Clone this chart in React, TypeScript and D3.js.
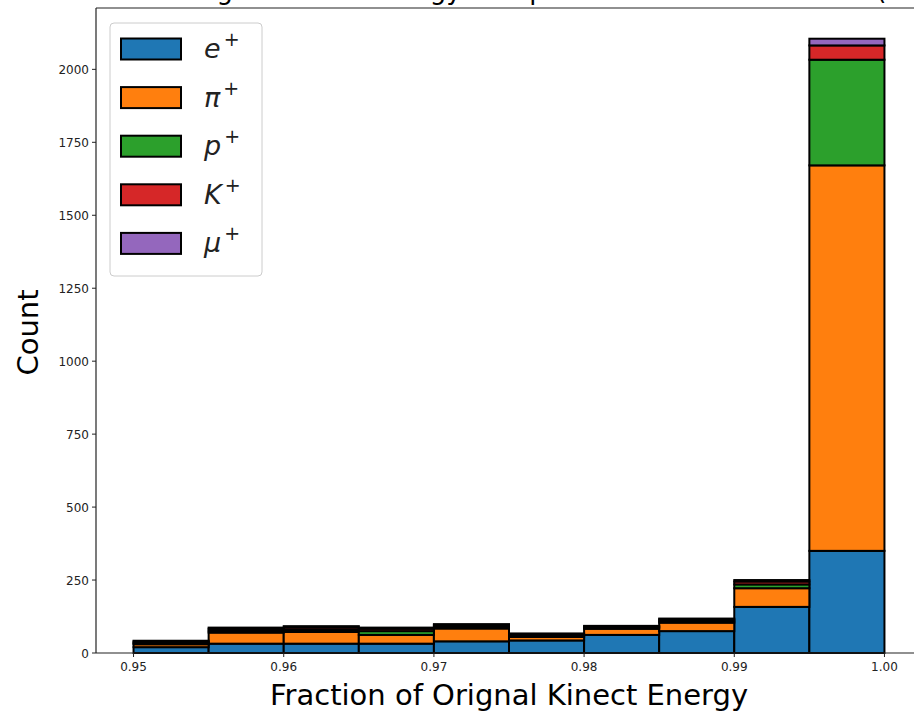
import React, { useEffect } from "react";
import * as d3 from "d3";

const binEdges = [0.95, 0.955, 0.96, 0.965, 0.97, 0.975, 0.98, 0.985, 0.99, 0.995, 1.0];
const ePlus = [20, 32, 32, 32, 40, 43, 62, 75, 158, 350];
const piPlus = [10, 38, 40, 30, 44, 12, 21, 29, 64, 1321];
const pPlus = [4, 6, 7, 13, 5, 4, 4, 5, 13, 362];
const kPlus = [5, 7, 8, 8, 6, 5, 4, 6, 10, 49];
const muPlus = [3, 4, 5, 4, 4, 3, 2, 3, 5, 23];
const seriesKeys = ["e", "pi", "p", "K", "mu"];
const seriesLetters = ["e", "π", "p", "K", "μ"];
const seriesColors = ["#1f77b4", "#ff7f0e", "#2ca02c", "#d62728", "#9467bd"];
const xTicks = [0.95, 0.96, 0.97, 0.98, 0.99, 1.0];
const yTicks = [0, 250, 500, 750, 1000, 1250, 1500, 1750, 2000];
const titleText = "Fraction of Orignal Kinect Energy of top Particles in the Detector (All Events)";
const xLabel = "Fraction of Orignal Kinect Energy";
const yLabel = "Count";

const W = 914;
const H = 711;
const left = 96;
const right = 922;
const top = 8;
const bottom = 653;

export default function App() {
  useEffect(() => {
    document.body.style.margin = "0";
  }, []);

  const rows = binEdges.slice(0, -1).map((x0, i) => ({
    x0,
    x1: binEdges[i + 1],
    e: ePlus[i],
    pi: piPlus[i],
    p: pPlus[i],
    K: kPlus[i],
    mu: muPlus[i],
  }));
  const stacked = d3.stack<any>().keys(seriesKeys)(rows);
  const maxTotal = d3.max(rows, (r) => r.e + r.pi + r.p + r.K + r.mu) as number;

  const x = d3.scaleLinear().domain([0.9475, 1.0025]).range([left, right]);
  const y = d3.scaleLinear().domain([0, maxTotal * 1.05]).range([bottom, top]);

  const font = "'DejaVu Sans', sans-serif";

  return (
    <svg width={W} height={H} style={{ display: "block", background: "#fff" }}>
      <text x={(left + right) / 2 + 20} y={-1} textAnchor="middle" fontFamily={font} fontSize={26} fill="#000">
        {titleText}
      </text>
      {stacked.map((layer, si) => (
        <g key={si}>
          {layer.map((d, i) => (
            <rect
              key={i}
              x={x(d.data.x0)}
              width={x(d.data.x1) - x(d.data.x0)}
              y={y(d[1])}
              height={Math.max(0, y(d[0]) - y(d[1]))}
              fill={seriesColors[si]}
              stroke="#000"
              strokeWidth={2}
            />
          ))}
        </g>
      ))}
      {/* spines */}
      <line x1={left} x2={left} y1={top} y2={bottom} stroke="#222" strokeWidth={1.2} />
      <line x1={left} x2={right} y1={bottom} y2={bottom} stroke="#222" strokeWidth={1.2} />
      <line x1={left} x2={right} y1={top} y2={top} stroke="#222" strokeWidth={1.2} />
      <line x1={right} x2={right} y1={top} y2={bottom} stroke="#222" strokeWidth={1.2} />
      {/* x ticks */}
      {xTicks.map((t) => (
        <g key={t}>
          <line x1={x(t)} x2={x(t)} y1={bottom} y2={bottom + 4} stroke="#222" />
          <text x={x(t)} y={bottom + 18} textAnchor="middle" fontFamily={font} fontSize={12} fill="#222">
            {d3.format(".2f")(t)}
          </text>
        </g>
      ))}
      {/* y ticks */}
      {yTicks.map((t) => (
        <g key={t}>
          <line x1={left - 4} x2={left} y1={y(t)} y2={y(t)} stroke="#222" />
          <text x={left - 7} y={y(t) + 4.5} textAnchor="end" fontFamily={font} fontSize={12} fill="#222">
            {t}
          </text>
        </g>
      ))}
      <text x={509} y={705} textAnchor="middle" fontFamily={font} fontSize={29} fill="#000">
        {xLabel}
      </text>
      <text
        transform={`translate(38, ${(top + bottom) / 2 + 2}) rotate(-90)`}
        textAnchor="middle"
        fontFamily={font}
        fontSize={29}
        fill="#000"
      >
        {yLabel}
      </text>
      {/* legend */}
      <rect x={110} y={23} width={152} height={253} rx={4} fill="#fff" fillOpacity={0.8} stroke="#ccc" strokeWidth={1} />
      {seriesKeys.map((k, i) => {
        const cy = 49 + i * 48.6;
        return (
          <g key={k}>
            <rect x={121} y={cy - 10.5} width={60} height={21} fill={seriesColors[i]} stroke="#000" strokeWidth={2} />
            <text x={204} y={cy + 9} fontFamily={font} fontSize={27} fill="#222">
              <tspan fontStyle="italic">{seriesLetters[i]}</tspan>
              <tspan dx={3} dy={-12} fontSize={19}>+</tspan>
            </text>
          </g>
        );
      })}
    </svg>
  );
}
